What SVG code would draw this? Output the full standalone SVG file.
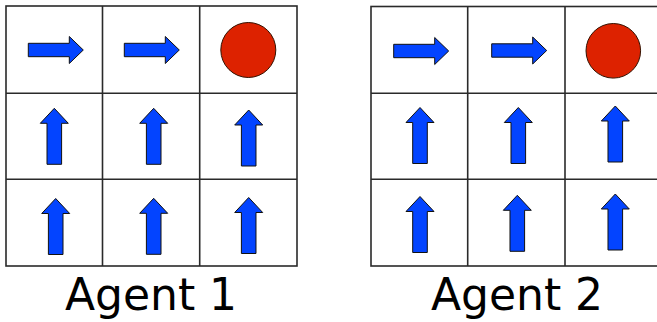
<svg xmlns="http://www.w3.org/2000/svg" xmlns:xlink="http://www.w3.org/1999/xlink" width="657" height="322" viewBox="0 0 657 322">
  <style>
    .grid { fill: #ffffff; stroke: #2a2a2a; stroke-width: 1.6; }
    .arrow { fill: #0344ff; stroke: #111111; stroke-width: 1; stroke-linejoin: miter; }
    .goal { fill: #dd2200; stroke: #331100; stroke-width: 1; }
    .label { font-family: "DejaVu Sans", sans-serif; font-size: 44px; fill: #000000; text-anchor: middle; }
  </style>
  <defs>
    <!-- up arrow, tip at origin -->
    <path id="up" class="arrow" d="M0,0 L14,15 L7.3,15 L7.3,56 L-7.3,56 L-7.3,15 L-14,15 Z"/>
    <!-- right arrow, tip at origin -->
    <path id="right" class="arrow" d="M0,0 L-14,-13.5 L-14,-6.7 L-55,-6.7 L-55,6.7 L-14,6.7 L-14,13.5 Z"/>
  </defs>

  <!-- Agent 1 grid -->
  <g id="agent1">
    <g id="a1-grid">
      <rect class="grid" x="6" y="6" width="291" height="260"/>
      <line class="grid" x1="102.5" y1="6" x2="102.5" y2="266"/>
      <line class="grid" x1="199.7" y1="6" x2="199.7" y2="266"/>
      <line class="grid" x1="6" y1="93.3" x2="297" y2="93.3"/>
      <line class="grid" x1="6" y1="179.3" x2="297" y2="179.3"/>
    </g>
    <g id="a1-r0c0"><use xlink:href="#right" href="#right" x="83.3" y="50"/></g>
    <g id="a1-r0c1"><use xlink:href="#right" href="#right" x="179.3" y="50"/></g>
    <g id="a1-r0c2"><circle class="goal" cx="248.3" cy="50" r="27.5"/></g>
    <g id="a1-r1c0"><use xlink:href="#up" href="#up" x="54.3" y="108.3"/></g>
    <g id="a1-r1c1"><use xlink:href="#up" href="#up" x="153.7" y="108.3"/></g>
    <g id="a1-r1c2"><use xlink:href="#up" href="#up" x="248.7" y="110"/></g>
    <g id="a1-r2c0"><use xlink:href="#up" href="#up" x="55.7" y="198.5"/></g>
    <g id="a1-r2c1"><use xlink:href="#up" href="#up" x="153.7" y="198.3"/></g>
    <g id="a1-r2c2"><use xlink:href="#up" href="#up" x="248.7" y="197.5"/></g>
    <text class="label" x="151" y="310">Agent 1</text>
  </g>

  <!-- Agent 2 grid -->
  <g id="agent2">
    <g id="a2-grid">
      <rect class="grid" x="371" y="6.5" width="291" height="259.5"/>
      <line class="grid" x1="467.7" y1="6.5" x2="467.7" y2="266"/>
      <line class="grid" x1="565" y1="6.5" x2="565" y2="266"/>
      <line class="grid" x1="371" y1="93.3" x2="662" y2="93.3"/>
      <line class="grid" x1="371" y1="179.3" x2="662" y2="179.3"/>
    </g>
    <g id="a2-r0c0"><use xlink:href="#right" href="#right" x="448.7" y="51"/></g>
    <g id="a2-r0c1"><use xlink:href="#right" href="#right" x="546.7" y="50.5"/></g>
    <g id="a2-r0c2"><circle class="goal" cx="613.3" cy="50.8" r="27.3"/></g>
    <g id="a2-r1c0"><use xlink:href="#up" href="#up" x="420" y="107.5"/></g>
    <g id="a2-r1c1"><use xlink:href="#up" href="#up" x="518.3" y="107.5"/></g>
    <g id="a2-r1c2"><use xlink:href="#up" href="#up" x="615.3" y="106"/></g>
    <g id="a2-r2c0"><use xlink:href="#up" href="#up" x="420" y="196.5"/></g>
    <g id="a2-r2c1"><use xlink:href="#up" href="#up" x="517.3" y="195.3"/></g>
    <g id="a2-r2c2"><use xlink:href="#up" href="#up" x="615.3" y="194"/></g>
    <text class="label" x="517" y="310">Agent 2</text>
  </g>

  <!-- no connectors in this figure -->
  <g id="connectors"/>
</svg>
